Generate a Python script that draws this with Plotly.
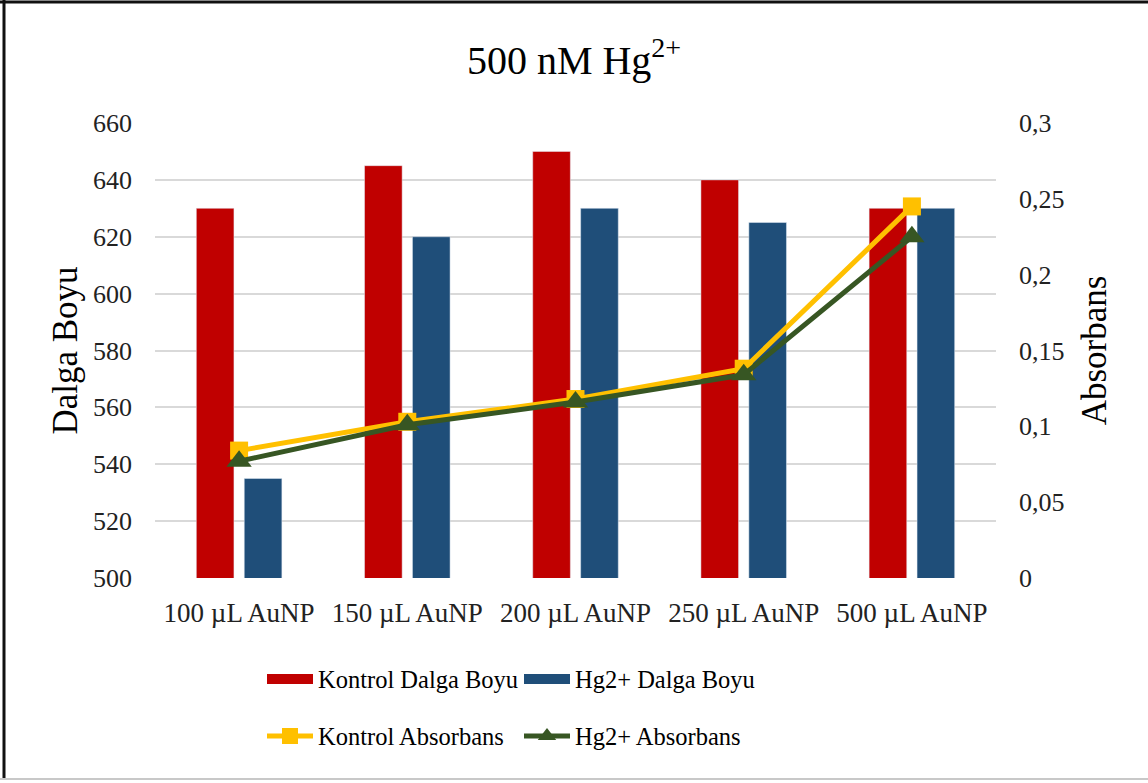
import plotly.graph_objects as go

# Categories and measured values
categories = ["100 µL AuNP", "150 µL AuNP", "200 µL AuNP", "250 µL AuNP", "500 µL AuNP"]
kontrol_dalga = [630, 645, 650, 640, 630]
hg_dalga = [535, 620, 630, 625, 630]
kontrol_abs = [0.084, 0.103, 0.118, 0.138, 0.245]
hg_abs = [0.077, 0.101, 0.116, 0.134, 0.225]

RED = "#C00000"
BLUE = "#1F4E79"
YELLOW = "#FFC000"
GREEN = "#375623"
FONT = "Liberation Serif"
GRID = "#D9D9D9"

# plot area in pixels (used to place frame lines and legends)
W, H = 1148, 783
L, R, T, B = 155, 152, 123, 205
PW, PH = W - L - R, H - T - B


def px_x(p):
    return (p - L) / PW


def px_y(p):
    return (H - B - p) / PH


fig = go.Figure()

fig.add_trace(go.Bar(x=categories, y=kontrol_dalga, name="Kontrol Dalga Boyu",
                     marker_color=RED, showlegend=False, yaxis="y"))
fig.add_trace(go.Bar(x=categories, y=hg_dalga, name="Hg2+ Dalga Boyu",
                     marker_color=BLUE, showlegend=False, yaxis="y"))

# wide rectangular legend keys for the bar series
fig.add_trace(go.Scatter(x=[None], y=[None], mode="lines", name="Kontrol Dalga Boyu",
                         line=dict(color=RED, width=17), legend="legend"))
fig.add_trace(go.Scatter(x=[None], y=[None], mode="lines", name="Hg2+ Dalga Boyu",
                         line=dict(color=BLUE, width=17), legend="legend"))

fig.add_trace(go.Scatter(x=categories, y=kontrol_abs, name="Kontrol Absorbans",
                         mode="lines+markers", yaxis="y2", legend="legend2",
                         line=dict(color=YELLOW, width=5),
                         marker=dict(symbol="square", size=18, color=YELLOW)))
fig.add_trace(go.Scatter(x=categories, y=hg_abs, name="Hg2+ Absorbans",
                         mode="lines+markers", yaxis="y2", legend="legend2",
                         line=dict(color=GREEN, width=5),
                         marker=dict(symbol="triangle-up", size=22, color=GREEN)))

frame = [
    dict(x0=px_x(0), x1=px_x(W), y0=px_y(2), y1=px_y(2), color="#111111", w=3),
    dict(x0=px_x(4), x1=px_x(4), y0=px_y(0), y1=px_y(780), color="#111111", w=3),
    dict(x0=px_x(0), x1=px_x(W), y0=px_y(779), y1=px_y(779), color="#C8C8C8", w=2),
]
shapes = [dict(type="line", xref="paper", yref="paper", x0=f["x0"], x1=f["x1"],
               y0=f["y0"], y1=f["y1"], line=dict(color=f["color"], width=f["w"]))
          for f in frame]

legend_common = dict(orientation="h", xanchor="left", yanchor="middle",
                     font=dict(family=FONT, size=24.5, color="#000000"),
                     bgcolor="rgba(0,0,0,0)", itemwidth=46, entrywidth=196,
                     itemclick=False, itemdoubleclick=False)

fig.update_layout(
    width=W, height=H,
    margin=dict(l=L, r=R, t=T, b=B, autoexpand=False),
    paper_bgcolor="white", plot_bgcolor="white",
    separators=",.",
    font=dict(family=FONT, color="#000000"),
    title=dict(text="500 nM Hg<sup>2+</sup>", x=0.5, xanchor="center",
               y=1 - 60 / H, yanchor="middle", yref="container",
               font=dict(family=FONT, size=40, color="#000000")),
    barmode="group", bargap=0.43, bargroupgap=0.215,
    xaxis=dict(type="category", showgrid=False, showline=False, zeroline=False,
               ticks="", tickfont=dict(family=FONT, size=27, color="#222222"),
               ticklabelstandoff=16),
    yaxis=dict(range=[500, 660], dtick=20, tick0=500, showline=False, zeroline=False,
               gridcolor=GRID, gridwidth=2, ticks="",
               tickfont=dict(family=FONT, size=26, color="#222222"),
               ticklabelstandoff=22,
               title=dict(text="Dalga Boyu", font=dict(family=FONT, size=35, color="#000000"),
                          standoff=4)),
    yaxis2=dict(range=[0, 0.3], dtick=0.05, tick0=0, overlaying="y", side="right",
                showgrid=False, showline=False, zeroline=False, ticks="",
                tickfont=dict(family=FONT, size=26, color="#222222"),
                ticklabelstandoff=22,
                title=dict(text="Absorbans", font=dict(family=FONT, size=35, color="#000000"),
                           standoff=17)),
    legend=dict(x=px_x(262), y=px_y(679), **legend_common),
    legend2=dict(x=px_x(262), y=px_y(736), **legend_common),
    shapes=shapes,
)

fig.write_html("out.html")
